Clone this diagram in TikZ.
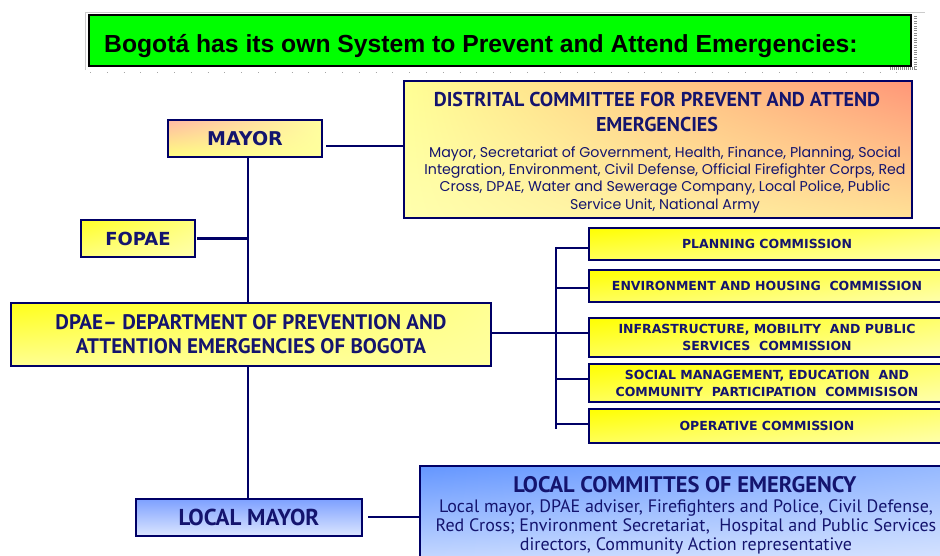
\documentclass[tikz,border=0pt]{standalone}
\usepackage{fontspec}
\usetikzlibrary{shadings}
\setmainfont{Liberation Sans}
\newfontfamily\hfont{PT Sans}
\newfontfamily\lfont{PT Sans}
\newfontfamily\gfont{Poppins}
\newfontfamily\vfont{DejaVu Sans}
\definecolor{navyc}{HTML}{000066}
\definecolor{txtc}{HTML}{14146E}
\definecolor{titlegreen}{HTML}{00FF00}
\definecolor{pinkish}{RGB}{255,185,165}
\definecolor{salmon}{RGB}{255,150,120}
\definecolor{peach}{RGB}{255,225,150}
\definecolor{blueA}{RGB}{100,150,255}
\definecolor{blueB}{RGB}{150,185,255}
\definecolor{blueC}{RGB}{200,218,255}
\definecolor{blueD}{RGB}{215,228,255}
\definecolor{blueTop}{RGB}{125,160,255}
\definecolor{blueBot}{RGB}{220,230,255}
\colorlet{yA}{yellow!85!white}
\colorlet{yB}{yellow!50!white}
\colorlet{yC}{yellow!32!white}
\colorlet{yD}{yellow!65!white}
\colorlet{yE}{yellow!42!white}
\colorlet{yF}{yellow!38!white}
\colorlet{yG}{yellow!90!white}
\colorlet{yH}{yellow!58!white}
\begin{document}
\begin{tikzpicture}[x=1pt,y=-1pt,
  conn/.style={draw=navyc, line width=2.4pt},
  boxbase/.style={draw=navyc, line width=2pt, inner sep=0pt, align=center, text=txtc},
  ylbox/.style={boxbase, shade, upper left=yA, upper right=yB, lower left=yB, lower right=yC},
  combox/.style={boxbase, shade, upper left=yellow, upper right=yH, lower left=yD, lower right=yC,
     minimum width=356pt, font=\vfont\bfseries\fontsize{12.5}{17}\selectfont},
  bluebox/.style={boxbase, shade, upper left=blueA, upper right=blueB, lower left=blueC, lower right=blueD}
]
\useasboundingbox (0,0) rectangle (940,556);
% top frame decorations
\draw[black!20, line width=0.8pt] (85,12) -- (925,12);
\draw[black!20, line width=0.8pt] (85,12) -- (85,70);
\draw[black!35, line width=0.9pt, dash pattern=on 0.8pt off 16pt] (90,72) -- (912,72);
\draw[black!45, line width=3pt, dash pattern=on 0.8pt off 1.6pt] (915,16) -- (915,70);
\draw[black!45, line width=2.5pt, dash pattern=on 0.8pt off 1.2pt] (890,68.5) -- (915,68.5);
% title
\node[draw=black, line width=2.5pt, fill=titlegreen, minimum width=822pt, minimum height=51pt, inner sep=0pt] (title) at (500,40.5) {};
\node[anchor=base west, inner sep=0pt, font=\bfseries\fontsize{24.7}{28}\selectfont] (titletext) at (104,53)
  {Bogotá has its own System to Prevent and Attend Emergencies:};

% mayor
\node[boxbase, shade, upper left=pinkish, upper right=yF, lower left=yB, lower right=yF,
  minimum width=154pt, minimum height=37pt, font=\vfont\bfseries\fontsize{19}{22}\selectfont] (mayor) at (245,138.5) {MAYOR};

% distrital committee
\node[boxbase, shade, upper left=yE, upper right=salmon, lower left=yC, lower right=peach,
  minimum width=508pt, minimum height=137pt] (distrital) at (658,149.5) {};
\node[align=center, text=txtc, inner sep=0pt, font=\hfont\bfseries\fontsize{20}{25}\selectfont] (disthead) at (657,112)
  {DISTRITAL COMMITTEE FOR PREVENT AND ATTEND\\EMERGENCIES};
\node[align=center, text=txtc, inner sep=0pt, font=\gfont\fontsize{14.2}{17.3}\selectfont] (distbody) at (665,179.5)
  {Mayor,\ Secretariat of Government,\ Health, Finance,\ Planning, Social\\
   Integration, Environment, Civil Defense,\ Official Firefighter\ Corps, Red\\
   Cross, DPAE, Water and Sewerage\ Company, Local Police, Public\\
   Service Unit, National Army};

% fopae
\node[ylbox, minimum width=114pt, minimum height=37pt, font=\vfont\bfseries\fontsize{18}{22}\selectfont] (fopae) at (138,238.5) {FOPAE};

% dpae
\node[boxbase, shade, upper left=yG, upper right=yE, lower left=yE, lower right=yF,
  minimum width=480pt, minimum height=63pt, font=\hfont\bfseries\fontsize{21}{24}\selectfont] (dpae) at (251,334.5)
  {DPAE– DEPARTMENT OF PREVENTION AND\\ATTENTION EMERGENCIES OF BOGOTA};

% commissions
\node[combox, minimum height=32pt] (plan) at (767,244) {PLANNING COMMISSION};
\node[combox, minimum height=32pt] (env) at (767,286) {ENVIRONMENT AND HOUSING\ \ COMMISSION};
\node[combox, minimum height=39pt] (infra) at (767,337.5) {INFRASTRUCTURE, MOBILITY\ \ AND PUBLIC\\SERVICES\ \ COMMISSION};
\node[combox, minimum height=38pt] (social) at (767,383) {SOCIAL MANAGEMENT, EDUCATION\ \ AND\\COMMUNITY\ \ PARTICIPATION\ \ COMMISISON};
\node[combox, minimum height=34pt] (ops) at (767,426) {OPERATIVE COMMISSION};

% local mayor
\node[boxbase, shade, top color=blueTop, bottom color=blueBot,
  minimum width=226pt, minimum height=37pt, font=\hfont\bfseries\fontsize{23}{26}\selectfont] (localmayor) at (249,517.5) {LOCAL MAYOR};

% local committees
\node[bluebox, minimum width=525pt, minimum height=96pt] (localcomm) at (682.5,514) {};
\node[align=center, text=txtc, inner sep=0pt, font=\hfont\bfseries\fontsize{22.5}{24}\selectfont] (lchead) at (685,485) {LOCAL COMMITTES OF EMERGENCY};
\node[align=center, text=txtc, inner sep=0pt, font=\lfont\fontsize{18}{19}\selectfont] (lcbody) at (686,527)
  {Local mayor, DPAE adviser, Firefighters and Police, Civil Defense,\\
   Red Cross; Environment Secretariat,\ \ Hospital and Public Services\\
   directors, Community Action representative};

% connectors
\coordinate (spine) at (248,0);
\coordinate (br) at (556,0);
\draw[conn] (mayor.south -| spine) -- (dpae.north -| spine);
\draw[conn] ([xshift=1pt]fopae.east) -- (fopae.east -| spine);
\draw[conn] (dpae.south -| spine) -- (localmayor.north -| spine);
\draw[conn] ([xshift=3pt,yshift=-7.5pt]mayor.east) -- ([yshift=-7.5pt]mayor.east -| distrital.west);
\draw[conn] ([yshift=1.5pt]dpae.east) -- ([yshift=1.5pt]dpae.east -| infra.west);
\draw[conn] ([yshift=-3pt]plan.west -| br) -- ([yshift=-3pt]ops.west -| br);
\draw[conn] ([yshift=-4pt]plan.west -| br) -- ([yshift=-4pt]plan.west);
\draw[conn] ([yshift=-2pt]env.west -| br) -- ([yshift=-2pt]env.west);
\draw[conn] ([yshift=4pt]social.west -| br) -- ([yshift=4pt]social.west);
\draw[conn] ([yshift=2pt]ops.west -| br) -- ([yshift=2pt]ops.west);
\draw[conn] ([xshift=5pt,yshift=0.5pt]localmayor.east) -- ([yshift=0.5pt]localmayor.east -| localcomm.west);
\end{tikzpicture}
\end{document}
